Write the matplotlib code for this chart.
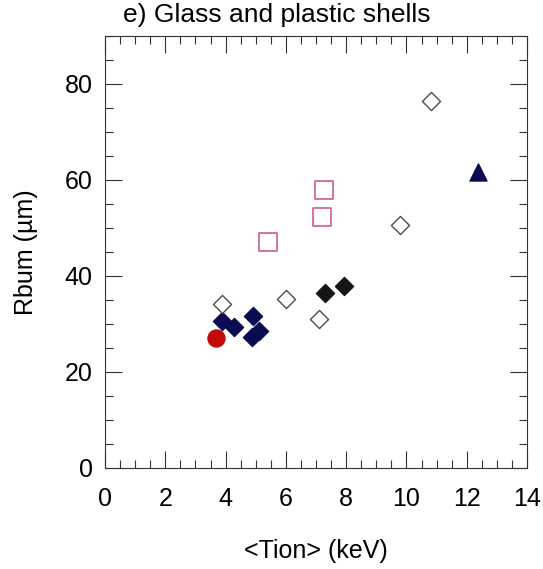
import matplotlib.pyplot as plt
from matplotlib.ticker import MultipleLocator

plt.rcParams['font.family'] = ['Liberation Sans', 'DejaVu Sans']

# glass shells, navy filled diamonds
navy_t = [3.88, 4.28, 4.90, 4.89, 5.11]
navy_r = [30.5, 29.4, 31.5, 27.2, 28.4]
# plastic shells, open diamonds
open_t = [3.89, 6.02, 7.10, 9.80, 10.81]
open_r = [34.2, 35.1, 31.0, 50.5, 76.4]
# black filled diamonds
black_t = [7.31, 7.92]
black_r = [36.3, 37.8]
# open squares
sq_t = [5.42, 7.20, 7.27]
sq_r = [47.0, 52.3, 57.8]
# single shots
circ_t, circ_r = [3.69], [27.0]
tri_t, tri_r = [12.36], [61.6]

fig = plt.figure(figsize=(5.43, 5.69), dpi=100)
ax = fig.add_axes([105/543, 1-467.5/569, 422/543, 431.5/569])

ax.scatter(navy_t, navy_r, marker='D', s=85, color='#0b0b52', zorder=3)
ax.scatter(open_t, open_r, marker='D', s=85, facecolors='white',
           edgecolors='#4a4f44', linewidths=1.0, zorder=3)
ax.scatter(black_t, black_r, marker='D', s=85, color='#151515', zorder=3)
ax.scatter(sq_t, sq_r, marker='s', s=165, facecolors='none',
           edgecolors='#d0607a', linewidths=1.2, zorder=3)
ax.scatter(circ_t, circ_r, marker='o', s=150, color='#c20a0a', zorder=3)
ax.scatter(tri_t, tri_r, marker='^', s=150, color='#0b0b52', zorder=3)

ax.set_xlim(0, 14)
ax.set_ylim(0, 90)
ax.xaxis.set_major_locator(MultipleLocator(2))
ax.xaxis.set_minor_locator(MultipleLocator(0.5))
ax.yaxis.set_major_locator(MultipleLocator(20))
ax.yaxis.set_minor_locator(MultipleLocator(5))
ax.tick_params(which='both', direction='in', top=True, right=True,
               labelsize=18, width=0.8, color='#333333')
ax.tick_params(which='major', length=12)
ax.tick_params(which='minor', length=6)
ax.tick_params(axis='x', which='major', pad=14)
ax.tick_params(axis='y', which='major', pad=9)
for sp in ax.spines.values():
    sp.set_linewidth(0.8)
    sp.set_color('#333333')

ax.set_xlabel('<Tion> (keV)', fontsize=18, labelpad=20)
ax.set_ylabel('Rbum (µm)', fontsize=18, labelpad=19)
ax.set_title('e) Glass and plastic shells', fontsize=19, loc='left',
             x=0.043, pad=10)

fig.savefig('out.png', dpi=100)
